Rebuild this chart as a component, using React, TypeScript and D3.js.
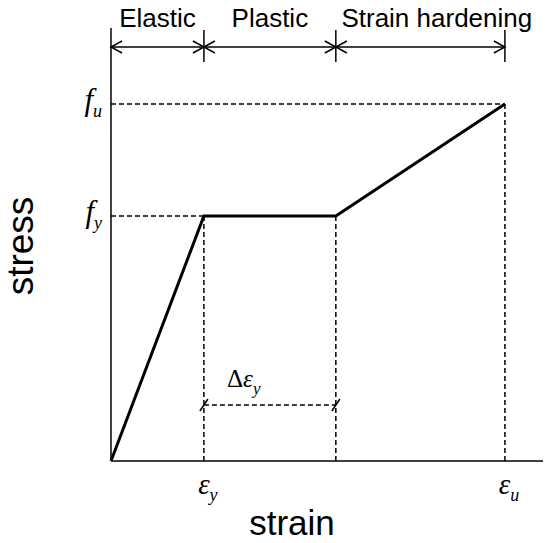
import * as d3 from 'd3';
import React, { useEffect, useRef } from 'react';

// strain / stress of the idealised curve (arbitrary units)
const curveStrain = [0, 1, 2.42, 4.24];
const curveStress = [0, 1, 1, 1.457];
const stageNames = ['Elastic', 'Plastic', 'Strain hardening'];
const stageBounds = [0, 1, 2.42, 4.24];
const strainMax = 4.65;
const stressMax = 1.767;

const App = () => {
  const svgRef = useRef<SVGSVGElement>(null);

  useEffect(() => {
    const svg = d3.select(svgRef.current);
    svg.selectAll('*').remove();

    const x = d3.scaleLinear().domain([0, strainMax]).range([111, 543]);
    const y = d3.scaleLinear().domain([0, stressMax]).range([461, 28]);
    const serif = '"Liberation Serif", "Times New Roman", serif';
    const sans = 'Arial, "Liberation Sans", sans-serif';

    // axes
    svg.append('line').attr('x1', x(0)).attr('x2', x(0)).attr('y1', y(0)).attr('y2', y(stressMax))
      .attr('stroke', '#000').attr('stroke-width', 1.5);
    svg.append('line').attr('x1', x(0)).attr('x2', x(strainMax)).attr('y1', y(0)).attr('y2', y(0))
      .attr('stroke', '#000').attr('stroke-width', 1.5);

    const dash = (x1, y1, x2, y2) => svg.append('line')
      .attr('x1', x1).attr('y1', y1).attr('x2', x2).attr('y2', y2)
      .attr('stroke', '#000').attr('stroke-width', 1.5).attr('stroke-dasharray', '5,3');

    // guide lines
    dash(x(0), y(curveStress[3]), x(curveStrain[3]), y(curveStress[3]));
    dash(x(0), y(curveStress[1]), x(curveStrain[1]), y(curveStress[1]));
    [1, 2, 3].forEach(i => dash(x(curveStrain[i]), y(curveStress[i]), x(curveStrain[i]), y(0)));

    // the curve
    const pts = curveStrain.map((s, i) => [s, curveStress[i]]);
    svg.append('path').datum(pts)
      .attr('fill', 'none').attr('stroke', '#000').attr('stroke-width', 3)
      .attr('d', d3.line().x(d => x(d[0])).y(d => y(d[1])));

    // stage bar on top
    const barY = 47;
    svg.append('line').attr('x1', x(stageBounds[0])).attr('x2', x(stageBounds[3]))
      .attr('y1', barY).attr('y2', barY).attr('stroke', '#000').attr('stroke-width', 1.5);
    stageBounds.forEach((b, i) => {
      svg.append('line').attr('x1', x(b)).attr('x2', x(b)).attr('y1', 30).attr('y2', i === 0 ? 30 : 62)
        .attr('stroke', '#000').attr('stroke-width', 1.5);
    });
    const arrow = (px, dir) => svg.append('path')
      .attr('d', `M${px + dir * 11},${barY - 6} L${px},${barY} L${px + dir * 11},${barY + 6}`)
      .attr('fill', 'none').attr('stroke', '#000').attr('stroke-width', 1.5);
    stageNames.forEach((name, i) => {
      const a = x(stageBounds[i]);
      const b = x(stageBounds[i + 1]);
      arrow(a, 1);
      arrow(b, -1);
      // the last label runs past its right bound
      const cx = i === 2 ? a + 101 : (a + b) / 2;
      svg.append('text').attr('x', cx).attr('y', 27).attr('text-anchor', 'middle')
        .attr('font-family', sans).attr('font-size', 26).text(name);
    });

    // delta epsilon_y
    const dY = 405;
    dash(x(curveStrain[1]), dY, x(curveStrain[2]), dY);
    [curveStrain[1], curveStrain[2]].forEach(s => {
      svg.append('line').attr('x1', x(s) - 4).attr('y1', dY + 6).attr('x2', x(s) + 4).attr('y2', dY - 6)
        .attr('stroke', '#000').attr('stroke-width', 1.5);
    });

    const mathLabel = (px, py, main, sub, anchor, size, subSize) => {
      const t = svg.append('text').attr('x', px).attr('y', py).attr('text-anchor', anchor)
        .attr('font-family', serif).attr('font-size', size);
      t.append('tspan').attr('font-style', 'italic').text(main);
      t.append('tspan').attr('font-style', 'italic').attr('font-size', subSize).attr('dy', 7).text(sub);
    };
    const d = svg.append('text').attr('x', 227).attr('y', 387)
      .attr('font-family', serif).attr('font-size', 25);
    d.append('tspan').text('Δ');
    d.append('tspan').attr('font-style', 'italic').text('ε');
    d.append('tspan').attr('font-style', 'italic').attr('font-size', 17).attr('dy', 7).text('y');

    mathLabel(102, 110, 'f', 'u', 'end', 31, 18);
    mathLabel(102, 222, 'f', 'y', 'end', 31, 18);
    mathLabel(x(curveStrain[1]) + 4, 494, 'ε', 'y', 'middle', 29, 18);
    mathLabel(x(curveStrain[3]) + 4, 494, 'ε', 'u', 'middle', 29, 18);

    // axis titles
    svg.append('text').attr('x', 292).attr('y', 535).attr('text-anchor', 'middle')
      .attr('font-family', sans).attr('font-size', 35).text('strain');
    svg.append('text').attr('transform', 'translate(33,246) rotate(-90)').attr('text-anchor', 'middle')
      .attr('font-family', sans).attr('font-size', 37).text('stress');
  }, []);

  return (
    <svg ref={svgRef} width={550} height={543}
      style={{ position: 'absolute', left: 0, top: 0, background: '#fff' }} />
  );
};

export default App;
